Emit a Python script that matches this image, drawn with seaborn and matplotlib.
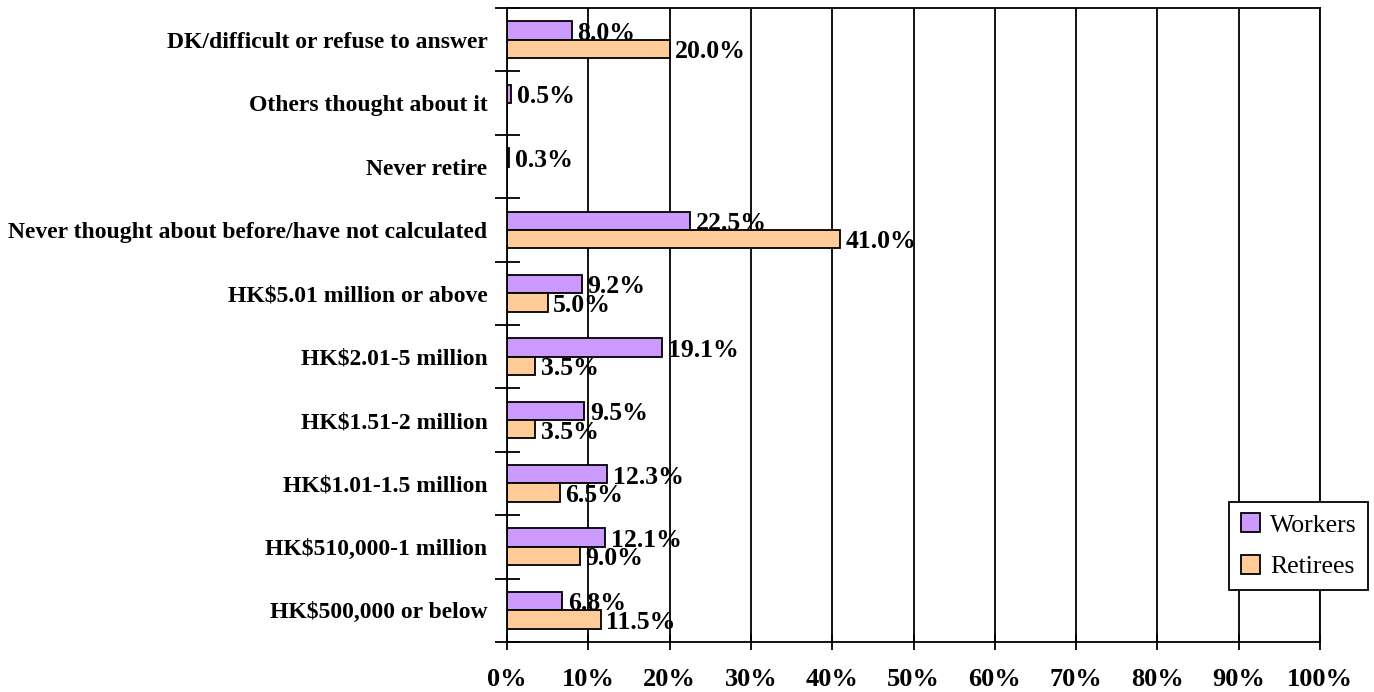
import numpy as np
import pandas as pd
import seaborn as sns
import matplotlib
matplotlib.use("Agg")
import matplotlib.pyplot as plt
from matplotlib.ticker import FixedLocator, PercentFormatter

categories = [
    "DK/difficult or refuse to answer",
    "Others thought about it",
    "Never retire",
    "Never thought about before/have not calculated",
    "HK$5.01 million or above",
    "HK$2.01-5 million",
    "HK$1.51-2 million",
    "HK$1.01-1.5 million",
    "HK$510,000-1 million",
    "HK$500,000 or below",
]
workers = [8.0, 0.5, 0.3, 22.5, 9.2, 19.1, 9.5, 12.3, 12.1, 6.8]
retirees = [20.0, np.nan, np.nan, 41.0, 5.0, 3.5, 3.5, 6.5, 9.0, 11.5]
series_names = ["Workers", "Retirees"]
palette = ["#CC99FF", "#FFCC99"]
x_ticks = list(range(0, 101, 10))

df = pd.DataFrame({
    "category": categories * 2,
    "group": [series_names[0]] * len(categories) + [series_names[1]] * len(categories),
    "value": workers + retirees,
})

sns.set_style("white")
plt.rcParams["font.family"] = ["Liberation Serif", "DejaVu Serif"]
plt.rcParams["text.color"] = "black"
plt.rcParams["xtick.color"] = "black"
plt.rcParams["ytick.color"] = "black"
plt.rcParams["xtick.labelcolor"] = "black"
plt.rcParams["ytick.labelcolor"] = "black"

fig = plt.figure(figsize=(13.74, 6.92), dpi=100)
ax = fig.add_axes([0.369, 0.0723, 0.5917, 0.9161])

sns.barplot(
    data=df, y="category", x="value", hue="group",
    order=categories, hue_order=series_names, palette=palette,
    orient="h", width=0.58, gap=0.0, dodge=True,
    edgecolor="black", linewidth=1.3, saturation=1, ax=ax, legend=True,
)

# value labels at the end of each bar, nudged slightly downward
for cont in ax.containers:
    labels = [f"{v:.1f}%" if np.isfinite(v) else "" for v in cont.datavalues]
    anns = ax.bar_label(cont, labels=labels, padding=4, fontsize=18.5,
                        fontweight="bold", label_type="edge", color="black")
    for a in anns:
        a.xyann = (4, -2)

ax.set_xlim(0, 100)
ax.set_ylim(len(categories) - 0.5, -0.5)
ax.xaxis.set_major_locator(FixedLocator(x_ticks))
ax.xaxis.set_major_formatter(PercentFormatter(decimals=0))
ax.grid(axis="x", color="black", linewidth=1.3)
ax.set_axisbelow(True)

ax.set_xlabel("")
ax.set_ylabel("")
ax.tick_params(axis="x", which="major", bottom=True, direction="inout",
               length=12, width=1.3, labelsize=19, pad=13)
for lbl in ax.get_xticklabels():
    lbl.set_fontweight("bold")

# category labels at centres, tick marks on the boundaries between them
ax.tick_params(axis="y", which="major", left=True, length=0,
               labelsize=17, pad=14)
for lbl in ax.get_yticklabels():
    lbl.set_fontweight("bold")
ax.yaxis.set_minor_locator(FixedLocator(np.arange(-0.5, len(categories), 1.0)))
ax.tick_params(axis="y", which="minor", left=True, direction="inout",
               length=18, width=1.3)

for side in ["left", "bottom", "top", "right"]:
    ax.spines[side].set_visible(True)
    ax.spines[side].set_color("black")
    ax.spines[side].set_linewidth(1.3)

leg = ax.legend(
    loc="upper left", bbox_to_anchor=(0.888, 0.221), frameon=True,
    fancybox=False, edgecolor="black", fontsize=18.5,
    handlelength=0.75, handleheight=0.75, handletextpad=0.4,
    labelspacing=0.7, borderpad=0.45, borderaxespad=0.0,
)
leg.get_frame().set_linewidth(1.3)
leg.get_frame().set_alpha(1)

fig.savefig("out.png", dpi=100)
